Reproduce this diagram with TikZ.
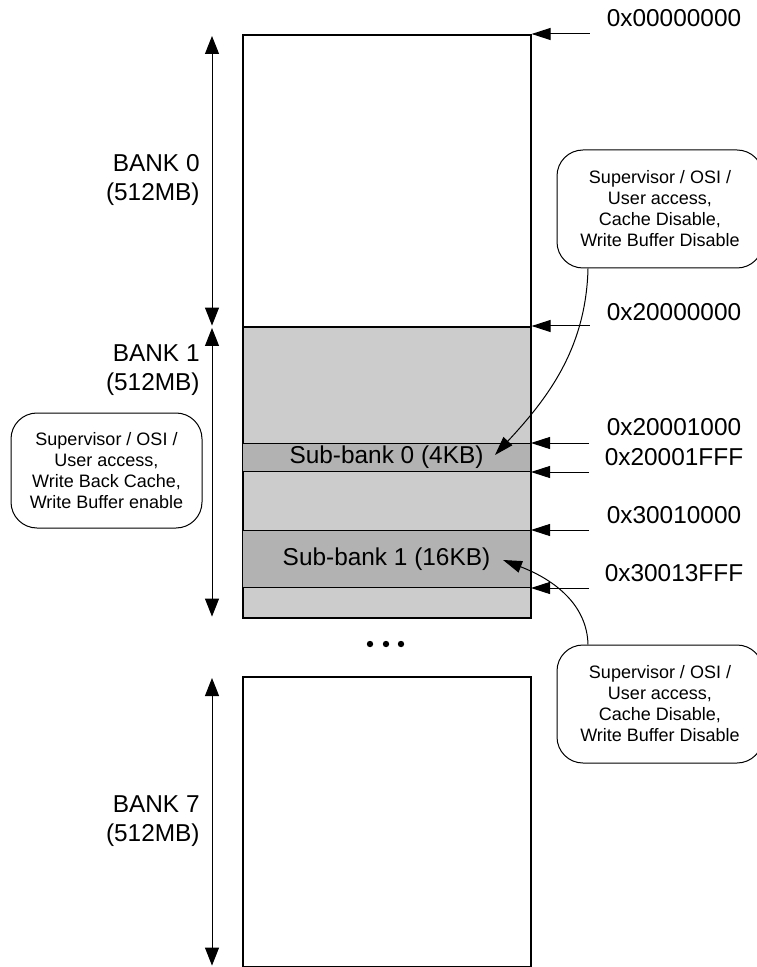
\documentclass[tikz,border=0pt]{standalone}
\usepackage{fontspec}
\setmainfont{Liberation Sans}
\usetikzlibrary{arrows.meta,positioning}

\begin{document}
\begin{tikzpicture}[x=0.5pt, y=-0.5pt, >={Triangle[length=9pt,width=7pt]},
  font=\fontsize{12.2}{14.5}\selectfont,
  bank/.style={draw, line width=0.8pt, minimum width=144pt, inner sep=0pt, anchor=north west},
  subbank/.style={draw, line width=0.5pt, fill=gray!60, minimum width=144pt, inner sep=0pt, anchor=north west},
  note/.style={draw, line width=0.5pt, rounded corners=13pt, align=center, inner sep=0pt,
    font=\fontsize{9}{10.5}\selectfont},
  banklabel/.style={align=right, anchor=east, inner sep=0pt},
  addr/.style={inner sep=0pt},
  ptr/.style={-{Triangle[length=9.5pt,width=6pt]}, line width=0.5pt},
  span/.style={<->, line width=0.5pt, shorten <=1pt, shorten >=1pt}]

\useasboundingbox (0,0) rectangle (756,967);

\node[bank, minimum height=146pt] (b0) at (242,34) {};
\node[bank, fill=gray!40, minimum height=145.5pt] (b1) at (242,326) {};
\node[subbank, minimum height=14pt] (s0) at (242,443) {Sub-bank 0 (4KB)};
\node[subbank, minimum height=28.5pt] (s1) at (242,530) {Sub-bank 1 (16KB)};
\node[bank, minimum height=145pt] (b7) at (242,676) {};

\foreach \x in {370,386,401}
  \fill (\x,644) circle (1.6pt);

\node[banklabel] (l0) at (200,180) {BANK 0\\(512MB)};
\node[banklabel] (l1) at (200,370) {BANK 1\\(512MB)};
\node[banklabel] (l7) at (200,821) {BANK 7\\(512MB)};

\draw[span] ([xshift=-15pt]b0.north west) -- ([xshift=-15pt]b0.south west);
\draw[span] ([xshift=-15pt]b1.north west) -- ([xshift=-15pt]b1.south west);
\draw[span] ([xshift=-15pt]b7.north west) -- ([xshift=-15pt]b7.south west);

\node[addr] (a0) at (674,18) {0x00000000};
\node[addr] (a1) at (674,312) {0x20000000};
\node[addr] (a2) at (674,427) {0x20001000};
\node[addr] (a3) at (674,457) {0x20001FFF};
\node[addr] (a4) at (674,515) {0x30010000};
\node[addr] (a5) at (674,573) {0x30013FFF};

\draw[ptr] ([xshift=29pt]b0.north east) -- (b0.north east);
\draw[ptr] ([xshift=29pt]b1.north east) -- (b1.north east);
\draw[ptr] ([xshift=29pt]s0.north east) -- (s0.north east);
\draw[ptr] ([xshift=29pt]s0.south east) -- (s0.south east);
\draw[ptr] ([xshift=29pt]s1.north east) -- (s1.north east);
\draw[ptr] ([xshift=29pt]s1.south east) -- (s1.south east);

\node[note, minimum width=103pt, minimum height=59pt] (n0) at (660,209)
  {Supervisor / OSI /\\User access,\\Cache Disable,\\Write Buffer Disable};
\node[note, minimum width=103pt, minimum height=59pt] (n1) at (660,704)
  {Supervisor / OSI /\\User access,\\Cache Disable,\\Write Buffer Disable};
\node[note, minimum width=95.5pt, minimum height=57.5pt] (n2) at (106.5,470.5)
  {Supervisor / OSI /\\User access,\\Write Back Cache,\\Write Buffer enable};

\coordinate (t0) at (495,455);
\coordinate (t1) at (503,560);
\draw[ptr] ([xshift=-36pt]n0.south) .. controls (586,350) and (546,400) .. (t0);
\draw[ptr] ([xshift=-36pt]n1.north) .. controls (587,605) and (555,580) .. (t1);
\end{tikzpicture}
\end{document}
